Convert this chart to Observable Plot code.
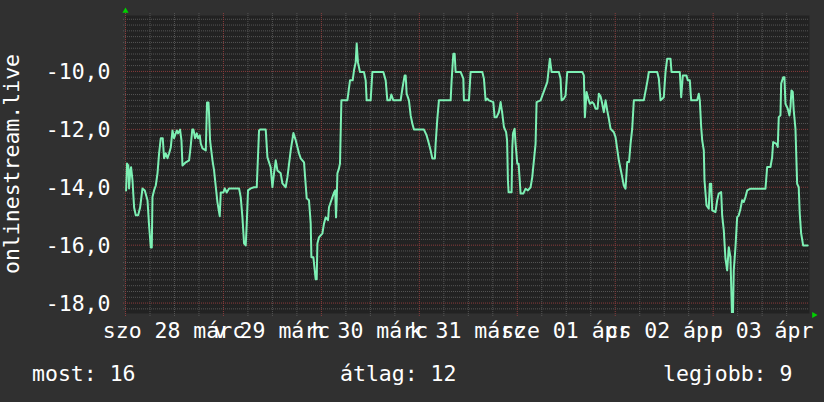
<!DOCTYPE html>
<html><head><meta charset="utf-8">
<script src="https://cdn.jsdelivr.net/npm/d3@7"></script>
<script src="https://cdn.jsdelivr.net/npm/@observablehq/plot@0.6"></script>
<style>html,body{margin:0;padding:0;background:#303030;}</style>
</head><body><div id="chart"></div>
<script>
// hours since 2020-03-28 00:00 (UTC)
const hours = [0.15,0.37,0.69,0.88,1.18,1.37,1.71,2.11,2.52,3.09,3.58,4.16,4.73,5.39,5.78,6.2,6.44,6.61,7.0,7.42,7.84,8.23,8.64,9.13,9.45,9.87,10.29,10.68,11.09,11.51,11.9,12.56,12.88,13.37,13.71,13.96,14.77,15.58,15.99,16.36,16.65,17.05,17.46,17.78,18.2,18.44,18.86,19.67,19.98,20.33,20.47,20.72,21.31,21.7,22.11,22.53,23.09,23.34,24.0,24.32,24.81,25.37,27.82,28.24,28.65,29.05,29.46,29.71,30.02,30.69,31.49,32.16,32.72,32.96,34.36,34.78,35.58,36.0,36.39,36.81,37.22,38.03,38.45,39.25,39.67,40.48,41.14,41.71,42.51,42.93,43.74,44.4,44.96,45.38,45.55,46.04,46.19,46.6,46.85,47.02,47.41,48.25,48.64,49.05,49.62,49.86,50.28,50.69,51.09,51.38,51.58,51.75,51.92,52.31,52.56,52.9,54.37,55.01,55.67,55.98,56.4,56.65,56.96,57.45,58.43,58.85,59.09,60.07,60.49,63.18,63.75,64.16,64.8,65.14,65.63,67.42,67.84,68.4,68.65,68.89,69.45,69.87,70.29,70.68,73.13,73.79,74.35,74.77,75.18,75.82,75.99,76.41,76.8,79.67,79.91,80.33,80.65,80.89,82.11,82.78,82.92,84.15,84.56,87.43,87.82,88.24,88.65,89.05,90.12,90.44,90.93,91.49,91.91,92.33,92.72,93.26,93.5,93.7,93.87,94.6,94.78,94.97,95.34,95.58,96.0,96.32,96.81,97.47,98.03,98.6,99.26,99.67,100.07,100.48,100.73,101.71,103.35,103.98,104.4,106.19,106.6,106.85,107.41,107.83,108.24,111.92,112.31,112.56,112.97,113.39,113.78,114.37,114.76,115.18,115.67,115.99,116.4,116.82,117.21,117.63,118.04,118.43,118.85,119.66,120.07,120.88,121.3,121.71,122.1,122.52,122.94,123.38,123.75,124.16,124.56,127.0,127.84,128.23,130.29,130.68,131.1,131.9,132.32,132.73,133.54,133.79,135.82,136.16,136.56,137.46,137.78,138.27,138.61,140.08,140.47,140.72,141.06,141.31,141.7,141.87,142.36,142.92,143.17,143.51,143.76,144.56,144.98,145.37,145.96,146.2,146.6,147.01,147.43,147.82,148.23,148.6,148.85,149.04,149.46,149.88,150.27,150.69,151.1,151.5,151.91,152.33,153.14,156.81,157.23,158.04,158.45,158.7,159.5,159.82,160.07,160.48,160.66,161.15,161.46,161.71,162.27,162.69,162.93,163.18,163.5,163.74,164.16,164.57,164.96,165.21,165.55,166.04,167.17];
const values = [-14.11,-13.18,-13.25,-14.04,-13.42,-13.31,-13.76,-14.70,-14.97,-14.97,-14.70,-14.04,-14.11,-14.45,-15.32,-16.08,-16.08,-14.34,-14.11,-13.94,-13.52,-12.83,-12.31,-12.31,-13.0,-12.83,-13.0,-12.83,-12.63,-12.04,-12.31,-12.04,-12.14,-12.01,-12.38,-13.25,-13.14,-13.07,-12.56,-12.01,-12.01,-12.31,-12.14,-12.31,-12.21,-12.49,-12.66,-12.73,-11.07,-11.07,-11.45,-12.38,-13.07,-13.42,-13.97,-14.52,-15.0,-14.18,-14.18,-14.04,-14.18,-14.04,-14.04,-14.35,-15.04,-15.94,-16.01,-15.25,-14.11,-14.04,-14.0,-14.0,-12.04,-12.01,-12.01,-12.97,-13.32,-14.0,-13.52,-13.07,-13.42,-13.52,-13.87,-14.0,-13.66,-12.73,-12.13,-12.38,-12.83,-13.0,-13.14,-14.38,-14.45,-15.25,-16.42,-16.42,-16.63,-17.18,-17.18,-15.94,-15.73,-15.59,-15.25,-15.04,-15.14,-14.69,-14.52,-14.35,-14.18,-14.11,-15.04,-14.45,-13.52,-13.35,-13.18,-11.0,-11.0,-10.31,-10.31,-9.97,-9.69,-9.04,-9.69,-10.02,-10.02,-10.31,-11.0,-11.0,-10.02,-10.02,-10.31,-11.0,-11.0,-10.8,-11.0,-11.0,-10.6,-10.14,-10.14,-10.77,-11.0,-11.52,-11.81,-12.01,-12.01,-12.21,-12.5,-12.73,-13.01,-13.01,-12.5,-11.63,-11.0,-11.0,-10.31,-9.39,-9.39,-10.02,-10.02,-10.25,-11.0,-11.0,-10.02,-10.02,-10.25,-11.0,-10.94,-11.0,-11.06,-11.58,-11.58,-11.41,-11.06,-11.46,-11.92,-12.1,-12.38,-13.76,-14.17,-14.17,-12.61,-12.13,-11.98,-12.5,-13.19,-13.19,-14.22,-14.22,-14.05,-14.11,-14.0,-13.65,-13.07,-12.5,-11.06,-11.0,-10.37,-9.56,-10.02,-10.02,-10.25,-11.0,-10.94,-10.83,-10.02,-10.02,-10.14,-11.58,-10.71,-10.94,-11.12,-11.06,-11.12,-11.29,-11.29,-10.77,-10.86,-11.12,-11.41,-11.0,-11.35,-11.63,-11.98,-12.1,-12.27,-13.07,-13.36,-13.65,-13.94,-14.05,-13.13,-13.13,-12.5,-11.98,-11.0,-11.0,-10.37,-10.02,-10.02,-10.25,-11.0,-10.89,-10.02,-9.56,-9.56,-10.02,-10.02,-10.89,-10.14,-10.14,-10.31,-10.31,-11.0,-11.0,-10.77,-11.0,-11.92,-12.38,-12.73,-13.76,-14.63,-14.74,-13.88,-13.88,-14.8,-14.86,-14.45,-14.22,-14.17,-14.97,-15.49,-16.47,-16.87,-16.07,-16.41,-18.4,-18.4,-16.87,-16.07,-15.03,-14.97,-14.74,-14.45,-14.51,-14.34,-14.11,-14.05,-14.05,-13.3,-13.3,-12.96,-12.44,-12.5,-12.61,-11.58,-11.52,-10.42,-10.2,-10.2,-11.12,-11.29,-11.52,-11.25,-10.66,-10.71,-11.35,-11.98,-13.88,-14.0,-14.91,-15.59,-16.01,-16.01];

const dayLabels = ["szo 28 márc","v 29 márc","h 30 márc","k 31 márc","sze 01 ápr","cs 02 ápr","p 03 ápr"];
const labelDates = ["2020-03-28","2020-03-29","2020-03-30","2020-03-31","2020-04-01","2020-04-02","2020-04-03"];
const yTicks = [-18, -16, -14, -12, -10];
const yTitle = "onlinestream.live";
const legendLabels = ["most:", "átlag:", "legjobb:"];
const legendValues = [16, 12, 9];

const H = 3600 * 1000;
const t0 = Date.UTC(2020, 2, 28);
const data = hours.map((h, i) => ({date: new Date(t0 + h * H), value: values[i]}));
const xEnd = new Date(t0 + 167.6 * H);
const yDomain = [-18.36, -8.07];

const sixHours = d3.utcHour.every(6).range(new Date(t0), xEnd);
const minorX = sixHours.filter(d => d.getUTCHours() !== 0);
const majorX = sixHours.filter(d => d.getUTCHours() === 0);
const gridSteps = d3.range(-91, -40).map(i => i / 5);
const minorY = gridSteps.filter(v => Math.round(v * 5) % 10 !== 0);
const majorY = gridSteps.filter(v => Math.round(v * 5) % 10 === 0);
const tickDates = labelDates.map(d => new Date(Date.parse(d + "T12:00:00Z")));

const FONT = "DejaVu Sans Mono";
const FS = 21.5;

const chart = Plot.plot({
  width: 824, height: 402,
  marginTop: 15, marginBottom: 89, marginLeft: 125, marginRight: 15,
  style: {background: "#303030", fontFamily: FONT, fontSize: FS + "px", color: "#ffffff"},
  x: {type: "utc", domain: [new Date(t0), xEnd], axis: null},
  y: {domain: yDomain, axis: null},
  marks: [
    Plot.frame({fill: "#222222", stroke: null}),
    Plot.ruleY(minorY, {stroke: "#555555", strokeDasharray: "1,1", strokeWidth: 1, insetLeft: -2}),
    Plot.ruleX(minorX, {stroke: "#555555", strokeDasharray: "1,1", strokeWidth: 1, insetTop: -2, insetBottom: -3}),
    Plot.ruleY(majorY, {stroke: "#8a3c3c", strokeDasharray: "1,1", strokeWidth: 1, insetLeft: -2}),
    Plot.ruleX(majorX, {stroke: "#8a3c3c", strokeDasharray: "1,1", strokeWidth: 1, insetTop: -2, insetBottom: -3}),
    Plot.line(data, {x: "date", y: "value", stroke: "#7df0b4", strokeWidth: 2, clip: true}),
    Plot.text(yTicks, {y: d => d, text: d => d.toFixed(1).replace(".", ","), frameAnchor: "left", textAnchor: "end", dx: -15, dy: 1, lineAnchor: "middle", fill: "#ffffff", fontFamily: FONT, fontSize: FS}),
    Plot.dot([0], {frameAnchor: "top-left", symbol: "triangle", r: 2.3, fill: "#00d000", stroke: null, dy: -4.5}),
    Plot.dot([0], {frameAnchor: "bottom-right", symbol: "triangle", r: 2.3, fill: "#00d000", stroke: null, dx: 4.5, dy: 1.5, rotate: 90})
  ]
});

const svg = d3.select(chart);
const xs = chart.scale("x");
const ys = chart.scale("y");
const bottomY = ys.apply(yDomain[0]);
tickDates.forEach((d, i) => {
  svg.append("text")
    .attr("x", xs.apply(d)).attr("y", bottomY + 25)
    .attr("text-anchor", "middle")
    .attr("fill", "#ffffff")
    .style("font-family", FONT).style("font-size", FS + "px")
    .text(dayLabels[i]);
});
svg.append("text")
  .attr("transform", "translate(18.5,164) rotate(-90)")
  .attr("text-anchor", "middle")
  .attr("fill", "#ffffff")
  .style("font-family", FONT).style("font-size", FS + "px")
  .text(yTitle);
const legendX = [32, 340, 663];
legendLabels.forEach((l, i) => {
  svg.append("text")
    .attr("x", legendX[i]).attr("y", 381)
    .attr("text-anchor", "start")
    .attr("fill", "#ffffff")
    .style("font-family", FONT).style("font-size", FS + "px")
    .text(l + " " + legendValues[i]);
});
document.getElementById("chart").appendChild(chart);
</script>
</body></html>
